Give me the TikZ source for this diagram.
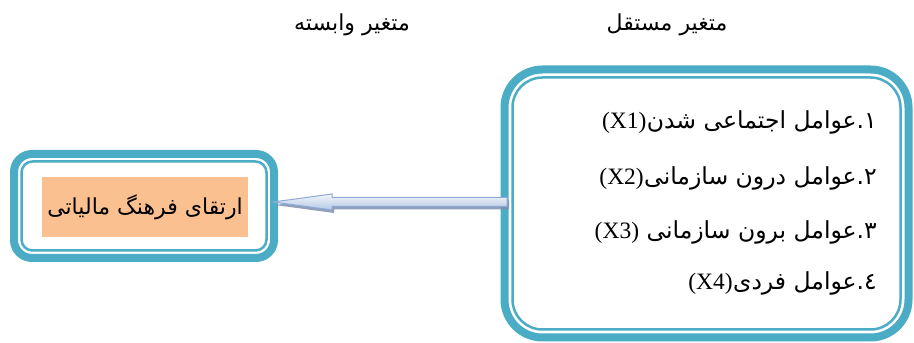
\documentclass[tikz,border=0pt]{standalone}
\usepackage{fontspec}
\setmainfont{Liberation Serif}
\newfontfamily\arabicfont[Script=Arabic]{DejaVu Sans}
\TeXXeTstate=1
\usetikzlibrary{calc}
\definecolor{boxteal}{HTML}{4BACC6}
\definecolor{orangefill}{HTML}{FAC090}
\definecolor{arrowedge}{HTML}{8EA9D4}
\definecolor{arrowlight}{HTML}{F2F6FB}
\definecolor{arrowdark}{HTML}{B4C8E4}
\definecolor{arrowshade}{HTML}{7E90AE}
\newcommand{\blockarrowpath}[2]{($(tip)+(#1,#2)$) -- ($(tip)+(59+#1,8+#2)$) -- ($(tip)+(59+#1,4.5+#2)$) -- ($(tail)+(#1,4.5+#2)$) -- ($(tail)+(#1,-4.5+#2)$) -- ($(tip)+(59+#1,-4.5+#2)$) -- ($(tip)+(59+#1,-8+#2)$) -- cycle}
\begin{document}
\begin{tikzpicture}[x=1pt,y=1pt,
  outerbox/.style={draw=boxteal, line width=8pt, fill=white, inner sep=0pt, outer sep=0pt},
  innerline/.style={draw=boxteal, line width=2.5pt},
  ar/.style={font=\arabicfont\fontsize{22}{26}\selectfont, inner sep=0pt},
  listline/.style={font=\arabicfont\fontsize{23.5}{28}\selectfont, inner sep=0pt, anchor=east},
  latinpart/.style={font=\rmfamily\fontsize{23.5}{28}\selectfont, inner sep=0pt, anchor=base east}
]
\useasboundingbox (0,0) rectangle (914,343);
\fill[white] (0,0) rectangle (914,343);

% left box
\node[outerbox, rounded corners=18pt, minimum width=260pt, minimum height=104pt] (L) at (144,137) {};
\draw[innerline, rounded corners=11pt] ($(L.south west)+(7.5,7.5)$) rectangle ($(L.north east)+(-7.5,-7.5)$);
\node[ar, fill=orangefill, minimum width=206pt, minimum height=60pt] (O) at (145,136) {\beginR ارتقای فرهنگ مالیاتی\endR};

% right box
\node[outerbox, rounded corners=38pt, minimum width=404pt, minimum height=268pt] (R) at (706.5,139.5) {};
\draw[innerline, rounded corners=30pt] ($(R.south west)+(8,8)$) rectangle ($(R.north east)+(-8,-8)$);

\node[listline] (t1) at (877,221) {\beginR ١.عوامل اجتماعی شدن\endR};
\node[latinpart] (x1) at (t1.base west) {(X1)};
\node[listline] (t2) at (877,165) {\beginR ٢.عوامل درون سازمانی\endR};
\node[latinpart] (x2) at (t2.base west) {(X2)};
\node[listline] (t3) at (877,111) {\beginR ٣.عوامل برون سازمانی\endR};
\node[latinpart] (x3) at ($(t3.base west)+(-7,0)$) {(X3)};
\node[listline] (t4) at (877,60) {\beginR ٤.عوامل فردی\endR};
\node[latinpart] (x4) at (t4.base west) {(X4)};

% headers
\node[ar] (h1) at (352,318) {\beginR متغیر وابسته\endR};
\node[ar] (h2) at (667,318) {\beginR متغیر مستقل\endR};

% arrow from R to L
\coordinate (tip) at ($(L.east)+(-1,4)$);
\coordinate (tail) at ($(R.west |- tip)+(2.5,0)$);
\fill[arrowshade, opacity=0.85] \blockarrowpath{2}{-3};
\shade[top color=arrowlight, bottom color=arrowdark, draw=arrowedge, line width=1pt, line join=miter] \blockarrowpath{0}{0};
\end{tikzpicture}
\end{document}
